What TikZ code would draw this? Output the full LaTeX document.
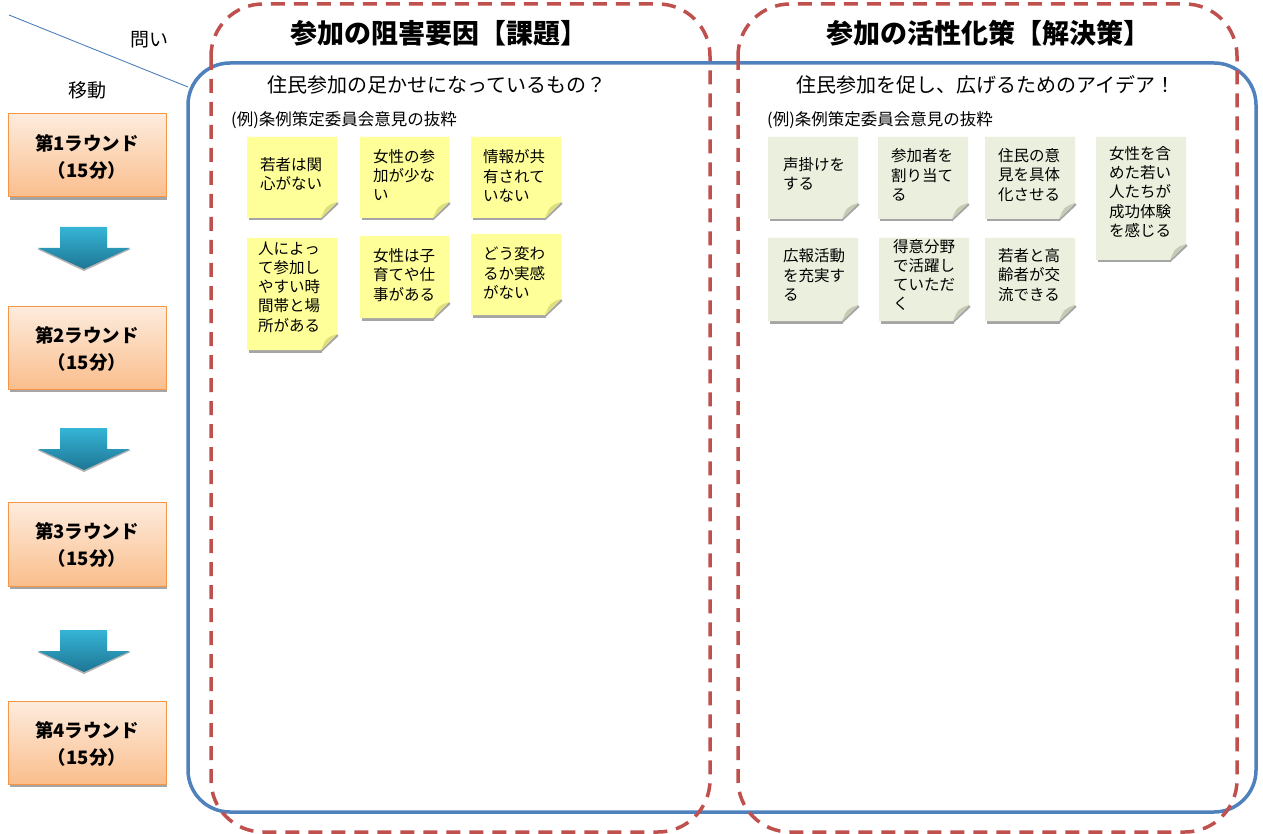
\documentclass[tikz,border=0pt]{standalone}
\usepackage{fontspec}
\setmainfont{Noto Sans CJK JP}
\definecolor{dblue}{RGB}{79,129,189}
\definecolor{dred}{RGB}{192,80,77}
\definecolor{oborder}{RGB}{247,150,70}
\definecolor{otop}{RGB}{253,236,222}
\definecolor{obot}{RGB}{250,190,140}
\definecolor{ynote}{RGB}{255,255,153}
\definecolor{yfold}{RGB}{222,222,128}
\definecolor{gnote}{RGB}{235,240,222}
\definecolor{gfold}{RGB}{196,202,180}
\definecolor{atop}{RGB}{54,180,214}
\definecolor{abot}{RGB}{30,118,148}
\definecolor{notesh}{RGB}{165,165,165}
\tikzset{
  x=1pt,y=-1pt,
  board/.style={dblue,line width=3.5pt,rounded corners=42pt},
  zone/.style={dred,line width=3.5pt,dash pattern=on 14pt off 9pt,rounded corners=52pt},
  notetext/.style={font=\fontsize{15.5pt}{19.3pt}\selectfont,align=left,anchor=west,inner sep=0pt},
  titletext/.style={font=\bfseries\fontsize{27pt}{32pt}\selectfont,inner sep=0pt},
  subtext/.style={font=\fontsize{20pt}{24pt}\selectfont,inner sep=0pt},
  extext/.style={font=\fontsize{16.5pt}{20pt}\selectfont,inner sep=0pt,anchor=west},
  labtext/.style={font=\fontsize{19pt}{22pt}\selectfont,inner sep=0pt},
  roundtext/.style={font=\bfseries\fontsize{18.5pt}{27pt}\selectfont,align=center,inner sep=0pt},
  roundbox/.style={draw=oborder,line width=1pt,top color=otop,bottom color=obot},
  arrowsh/.style={fill=gray!60},
  arrowbody/.style={top color=atop,bottom color=abot},
}
\newcommand{\stickynote}[9]{%
  \fill[notesh] (#2+2,#5-1) rectangle (#4-15,#5+2.5);
  \fill[notesh] (#4-16,#5+2.5) -- (#4-16,#5-1) -- (#4,#5-16) -- (#4+1.5,#5-14) -- cycle;
  \fill[#9note] (#2,#3) -- (#4,#3) -- (#4,#5-16) -- (#4-16,#5) -- (#2,#5) -- cycle;
  \fill[#9fold] (#4,#5-16) .. controls (#4-11,#5-12) .. (#4-16,#5) -- cycle;
  \node[notetext] (#1) at (#6,#7) {#8};
}
\newcommand{\roundstep}[4]{%
  \fill[notesh] (10,#3-1) rectangle (167,#3+3);
  \path[roundbox] (8,#2) rectangle (166,#3);
  \node[roundtext] (#1) at (87,{(#2+#3)/2+1}) {#4};
}
\newcommand{\blockarrow}[2]{%
  \fill[arrowsh] (60,#2+2) -- (107,#2+2) -- (107,#2+22) -- (131,#2+22) -- (84,#2+44) -- (37,#2+22) -- (60,#2+22) -- cycle;
  \path[arrowbody] (60,#2) -- (107,#2) -- (107,#2+21) -- (130,#2+21) -- (84,#2+42) -- (38,#2+21) -- (60,#2+21) -- cycle;
  \coordinate (#1) at (84,#2+21);
}
\begin{document}
\begin{tikzpicture}
\useasboundingbox (0,0) rectangle (1263,834);
\fill[white] (0,0) rectangle (1263,834);

% corner header
\coordinate (dA) at (9,15);
\coordinate (dB) at (188,87);
\draw[dblue,line width=0.9pt] (dA) -- (dB);
\node[labtext] (toi) at (149,40) {問い};
\node[labtext] (ido) at (87,90) {移動};

% board and zones
\draw[board] (188,63) rectangle (1256,812);
\draw[zone] (211,4) rectangle (710,832);
\draw[zone] (738,4) rectangle (1237,832);

% titles
\node[titletext] (t1) at (439,33) {参加の阻害要因【課題】};
\node[titletext] (t2) at (988,33) {参加の活性化策【解決策】};
\node[subtext] (s1) at (437,85) {住民参加の足かせになっているもの？};
\node[subtext] (s2) at (986,85) {住民参加を促し、広げるためのアイデア！};
\node[extext] (e1) at (231,120) {(例)条例策定委員会意見の抜粋};
\node[extext] (e2) at (767,120) {(例)条例策定委員会意見の抜粋};

% rounds
\roundstep{r1}{114}{197}{第1ラウンド\\（15分）}
\roundstep{r2}{306}{389}{第2ラウンド\\（15分）}
\roundstep{r3}{502}{586}{第3ラウンド\\（15分）}
\roundstep{r4}{701}{784}{第4ラウンド\\（15分）}
\blockarrow{a1}{227}
\blockarrow{a2}{428}
\blockarrow{a3}{630}

% yellow notes
\stickynote{y1}{247}{137}{337}{218}{260}{174}{若者は関\\心がない}{y}
\stickynote{y2}{360}{137}{449}{218}{373}{175}{女性の参\\加が少な\\い}{y}
\stickynote{y3}{471}{137}{561}{218}{483}{176}{情報が共\\有されて\\いない}{y}
\stickynote{y4}{247}{238}{337}{350}{258}{287}{人によっ\\て参加し\\やすい時\\間帯と場\\所がある}{y}
\stickynote{y5}{360}{236}{449}{318}{373}{275}{女性は子\\育てや仕\\事がある}{y}
\stickynote{y6}{471}{234}{561}{315}{483}{273}{どう変わ\\るか実感\\がない}{y}

% green notes
\stickynote{g1}{768}{137}{858}{219}{783}{174}{声掛けを\\する}{g}
\stickynote{g2}{878}{137}{968}{219}{891}{175}{参加者を\\割り当て\\る}{g}
\stickynote{g3}{985}{137}{1075}{219}{998}{175}{住民の意\\見を具体\\化させる}{g}
\stickynote{g4}{1096}{137}{1186}{260}{1109}{192}{女性を含\\めた若い\\人たちが\\成功体験\\を感じる}{g}
\stickynote{g5}{768}{238}{858}{321}{783}{275}{広報活動\\を充実す\\る}{g}
\stickynote{g6}{879}{238}{969}{321}{893}{275}{得意分野\\で活躍し\\ていただ\\く}{g}
\stickynote{g7}{985}{238}{1075}{321}{998}{275}{若者と高\\齢者が交\\流できる}{g}
\end{tikzpicture}
\end{document}
